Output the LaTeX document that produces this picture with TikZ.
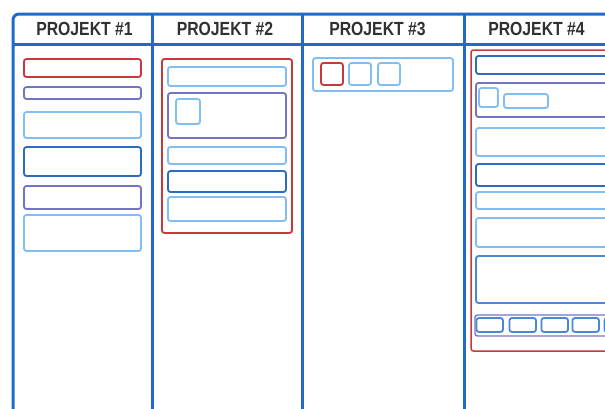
\documentclass[tikz,border=0pt]{standalone}
\usepackage{fontspec}
\setmainfont{Liberation Sans}
\newfontfamily\headfont[FakeStretch=0.83]{Liberation Sans}
\definecolor{framecol}{HTML}{1F6BC7}
\definecolor{cred}{HTML}{C9393B}
\definecolor{cpurple}{HTML}{7474C4}
\definecolor{clight}{HTML}{80BEF4}
\definecolor{cdark}{HTML}{2C6CC2}
\definecolor{cmid}{HTML}{4B88D2}
\definecolor{headtext}{HTML}{303030}
\begin{document}
\begin{tikzpicture}[x=1pt,y=-1pt,
  card/.style={rounded corners=2.5pt, line width=1.8pt},
  frameline/.style={draw=framecol, line width=3pt},
  head/.style={font=\headfont\bfseries\fontsize{19}{19}\selectfont, text=headtext, inner sep=0pt}]
\useasboundingbox (0,0) rectangle (605,408);
\clip (0,0) rectangle (605,408);
\fill[white] (0,0) rectangle (605,408);

% board frame and column dividers
\draw[frameline, rounded corners=6pt] (13,420) -- (13,14) -- (630,14);
\draw[frameline] (13,44) -- (630,44);
\foreach \x in {152.5,302,464}
  \draw[frameline] (\x,14) -- (\x,420);

% column headings
\node[head] (h1) at (84.5,29) {PROJEKT \#1};
\node[head] (h2) at (225,29) {PROJEKT \#2};
\node[head] (h3) at (377.5,29) {PROJEKT \#3};
\node[head] (h4) at (536.5,29) {PROJEKT \#4};

% column 1
\draw[card, cred]    (24,59)  rectangle (141,77);
\draw[card, cpurple] (24,87)  rectangle (141,99);
\draw[card, clight]  (24,112) rectangle (141,138);
\draw[card, cdark]   (24,147) rectangle (141,176);
\draw[card, cpurple] (24,186) rectangle (141,209);
\draw[card, clight]  (24,215) rectangle (141,251);

% column 2
\draw[card, cred]    (162,59)  rectangle (292,233);
\draw[card, clight]  (168,67)  rectangle (286,86);
\draw[card, cpurple] (168,93)  rectangle (286,138);
\draw[card, clight]  (176,99)  rectangle (200,124);
\draw[card, clight]  (168,147) rectangle (286,164);
\draw[card, cdark]   (168,171) rectangle (286,192);
\draw[card, clight]  (168,197) rectangle (286,221);

% column 3
\draw[card, clight]  (313,58)  rectangle (453,91);
\draw[card, cred]    (321,63)  rectangle (343,85);
\draw[card, clight]  (349,63)  rectangle (371,85);
\draw[card, clight]  (378,63)  rectangle (400,85);

% column 4
\draw[card, cred, line width=1.5pt] (471,50)  rectangle (640,351);
\draw[card, cdark]   (476,56)  rectangle (630,74);
\draw[card, cpurple] (476,83)  rectangle (630,117);
\draw[card, clight]  (479,88)  rectangle (498,107);
\draw[card, clight]  (504,94)  rectangle (548,108);
\draw[card, clight]  (476,128) rectangle (630,156);
\draw[card, cdark]   (476,164) rectangle (630,186);
\draw[card, clight]  (476,192) rectangle (630,209);
\draw[card, clight]  (476,218) rectangle (630,247);
\draw[card, cmid]    (476,256) rectangle (630,303);
\draw[card, cpurple, line width=1.4pt] (475,315) rectangle (630,336);
\foreach \a in {476,509,541,572,604}
  \draw[card, cmid] (\a+0.5,318) rectangle (\a+27,332);
\end{tikzpicture}
\end{document}
